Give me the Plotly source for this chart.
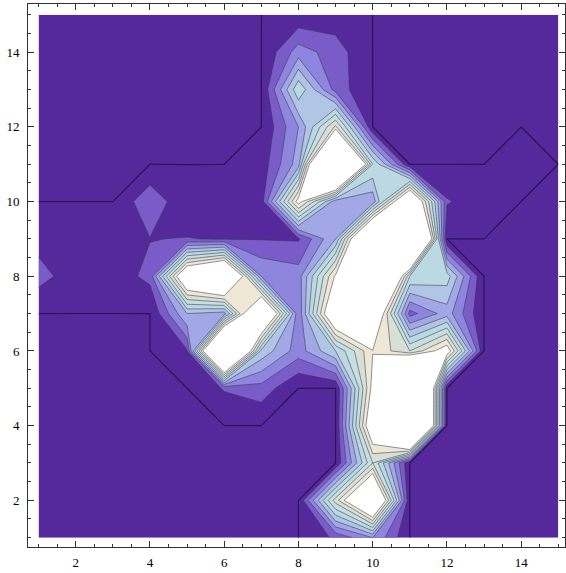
import plotly.graph_objects as go

# grid coordinates
x_vals = list(range(1, 16))
y_vals = list(range(1, 16))

# data rows (x = 1..15), one list per y value
row_y15 = [0, 0, 0, 0, 0, 0, 0, 0.2, 0.4, 0, 0, 0, 0, 0, 0]
row_y14 = [0, 0, 0, 0, 0, 0, 0, 2.5, 1.5, 0, 0, 0, 0, 0, 0]
row_y13 = [0, 0, 0, 0, 0, 0, 0, 5.8, 1.6, 0, 0, 0, 0, 0, 0]
row_y12 = [0, 0, 0, 0, 0, 0, 0, 3.0, 8.2, 0, 0, 0, 0, 0, 0]
row_y11 = [0, 0, 0, 0, 0, 0, 0.4, 3.5, 22, 6, 0, 0, 0, 0.4, 0]
row_y10 = [0, 0, 0, 1.8, 0.1, 0.4, 0.5, 9.6, 3.3, 3.3, 13, 1.1, 0.4, 0, 0]
row_y9 = [0.6, 0.4, 0.4, 0.97, 1.05, 0.9, 0.95, 0.9, 4, 16, 22, 0, 0, 0, 0]
row_y8 = [1.42, 0.4, 0.4, 1.3, 12, 15, 3, 2.5, 9.2, 20, 6, 5.5, 0, 0, 0]
row_y7 = [0, 0, 0, 0, 4, 3.5, 14, 2.2, 12, 12, 1.6, 3.5, 0, 0, 0]
row_y6 = [0, 0, 0, 0, 0.9, 20, 4.7, 2.5, 5, 8.95, 7, 10, 0, 0, 0]
row_y5 = [0, 0, 0, 0, 0, 1.1, 1.6, 0, 0, 9.5, 25, 0, 0, 0, 0]
row_y4 = [0, 0, 0, 0, 0, 0, 0, 0, 0, 11, 25, 0, 0, 0, 0]
row_y3 = [0, 0, 0, 0, 0, 0, 0, 0, 0, 7, 0, 0, 0, 0, 0]
row_y2 = [0, 0, 0, 0, 0, 0, 0, 0, 7.5, 14, 0, 0, 0, 0, 0]
row_y1 = [0, 0, 0, 0, 0, 0, 0, 0, 1.2, 3, 0, 0, 0, 0, 0]

z = [row_y1, row_y2, row_y3, row_y4, row_y5, row_y6, row_y7, row_y8,
     row_y9, row_y10, row_y11, row_y12, row_y13, row_y14, row_y15]

# contour levels
level_start = 1
level_end = 9
level_step = 1
zero_level = 0.001

# tick values
major_ticks = [2, 4, 6, 8, 10, 12, 14]

# band colours (lowest band .. highest band, then clipped top)
band_colors = ['#55299b', '#7a5cc9', '#8d85de', '#a2a7e6', '#b1c5e5',
               '#bcd8e2', '#c8dfdf', '#d8dfd6', '#eee7d6']
top_color = '#ffffff'

n = len(band_colors)
cs = []
for k, c in enumerate(band_colors):
    lo = k / n
    hi = (k + 1) / n if k < n - 1 else 0.97
    cs.append([lo, c])
    cs.append([hi, c])
cs.append([0.97, top_color])
cs.append([1.0, top_color])

fig = go.Figure()
fig.add_trace(go.Contour(
    x=x_vals, y=y_vals, z=z,
    autocontour=False,
    contours=dict(start=level_start, end=level_end, size=level_step,
                  coloring='fill', showlines=True),
    colorscale=cs, showscale=False,
    line=dict(color='rgba(55,55,75,0.55)', width=1, smoothing=0),
    hoverinfo='skip',
))
fig.add_trace(go.Contour(
    x=x_vals, y=y_vals, z=z,
    autocontour=False,
    contours=dict(start=zero_level, end=zero_level, size=1, coloring='lines'),
    colorscale=[[0, '#2a1452'], [1, '#2a1452']], showscale=False,
    line=dict(width=1.2, smoothing=0),
    hoverinfo='skip',
))

axis_common = dict(
    ticks='inside', ticklen=6, tickwidth=1, tickcolor='#333',
    showline=True, linecolor='#333', linewidth=1, mirror='ticks',
    showgrid=False, zeroline=False, automargin=False,
    tickvals=major_ticks,
    minor=dict(dtick=0.5, tick0=0, ticklen=3, ticks='inside', tickcolor='#333'),
    tickfont=dict(family='Liberation Serif', size=13, color='#000'),
)
fig.update_xaxes(range=[0.715, 15.18], ticklabelstandoff=3, **axis_common)
fig.update_yaxes(range=[0.75, 15.29], ticklabelstandoff=5, **axis_common)
fig.update_layout(width=566, height=573,
                  margin=dict(l=28, r=1, t=4, b=26),
                  plot_bgcolor='white', paper_bgcolor='white',
                  showlegend=False)
fig.write_html('out.html',
               config={'displayModeBar': False},
               post_script="document.body.style.margin='0';"
                           "document.body.style.padding='0';")
